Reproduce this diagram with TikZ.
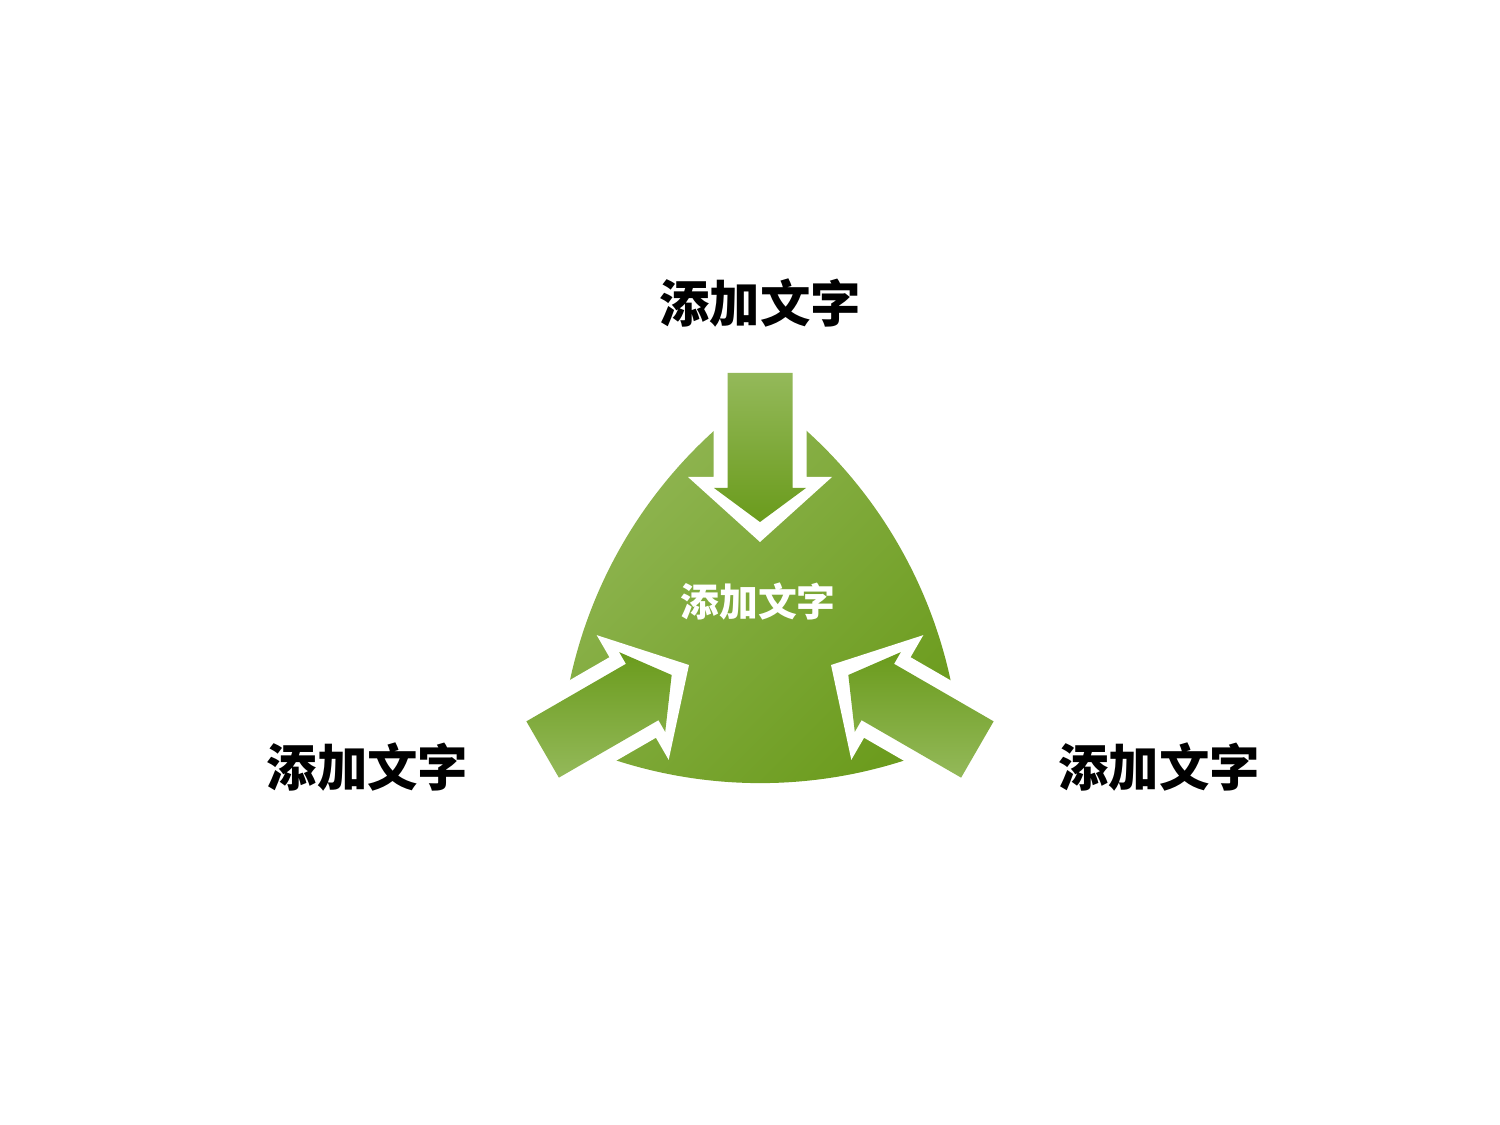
\documentclass[tikz,border=0pt]{standalone}
\usepackage{fontspec}
\newfontfamily\cjk{Noto Sans CJK SC}
\definecolor{triL}{RGB}{145,182,84}
\definecolor{triD}{RGB}{108,156,30}
\definecolor{arrL}{RGB}{148,185,90}
\definecolor{arrD}{RGB}{106,155,28}
\def\cx{760}
\def\cy{501}
\newcommand\arpt[2]{({\cx+(#1)*cos(\ph)-(#2)*sin(\ph)},{\cy+(#1)*sin(\ph)+(#2)*cos(\ph)})}
\tikzset{
  lbl/.style={font=\cjk\bfseries\fontsize{25.2}{28}\selectfont, text=black, inner sep=0pt},
  clbl/.style={font=\cjk\bfseries\fontsize{19.4}{22}\selectfont, text=white, inner sep=0pt},
  tri/.style={shading=axis, top color=triL, bottom color=triD, shading angle=45},
}
\begin{document}
\begin{tikzpicture}[x=0.5pt,y=0.5pt]
\useasboundingbox (0,0) rectangle (1500,1125);
% curved triangle
\path[tri] (561.2,386.2) arc[start angle=244.9, end angle=295.1, radius=234.65pt]
  arc[start angle=4.9, end angle=55.1, radius=234.65pt]
  arc[start angle=124.9, end angle=175.1, radius=234.65pt] -- cycle;
% arrows
\foreach \ph/\sa in {0/0,120/180,240/180}{
  \fill[white] \arpt{-46.5}{262} -- \arpt{46.5}{262} -- \arpt{46.5}{147} -- \arpt{72}{147}
    -- \arpt{0}{82} -- \arpt{-72}{147} -- \arpt{-46.5}{147} -- cycle;
  \path[shading=axis, top color=arrL, bottom color=arrD, shading angle=\sa]
    \arpt{-32.5}{251} -- \arpt{32.5}{251} -- \arpt{32.5}{136} -- \arpt{46}{136}
    -- \arpt{0}{102} -- \arpt{-46}{136} -- \arpt{-32.5}{136} -- cycle;
}
\node[clbl] (center) at (758,523) {添加文字};
\node[lbl] (top) at (760,822) {添加文字};
\node[lbl] (left) at (367.5,358) {添加文字};
\node[lbl] (right) at (1159,358) {添加文字};
\end{tikzpicture}
\end{document}
